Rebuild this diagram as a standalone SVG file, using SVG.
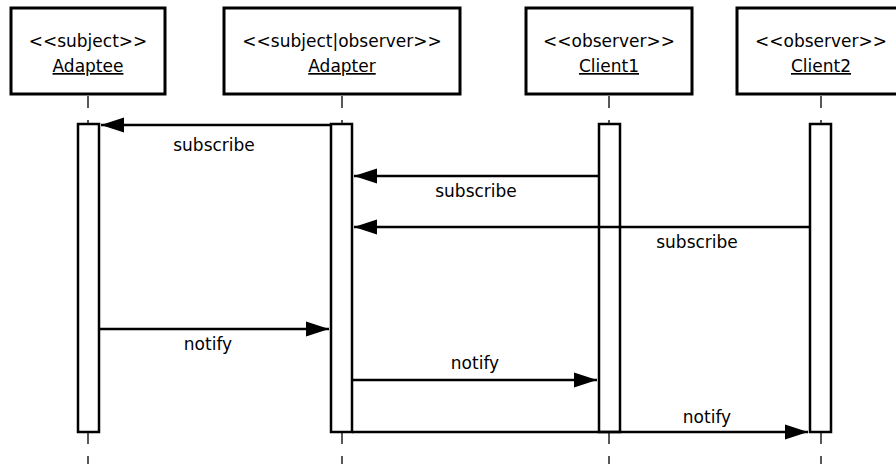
<svg xmlns="http://www.w3.org/2000/svg" width="896" height="464" viewBox="0 0 896 464">
  <style>
    .box { fill: #ffffff; stroke: #000000; stroke-width: 3; }
    .bar { fill: #ffffff; stroke: #000000; stroke-width: 2.5; }
    .life { stroke: #222222; stroke-width: 1.5; stroke-dasharray: 12 12; fill: none; }
    .msg { stroke: #000000; stroke-width: 2.5; fill: none; marker-end: url(#head); }
    text { font-family: "DejaVu Sans", sans-serif; font-size: 17px; fill: #000000; text-anchor: middle; }
    .name { text-decoration: underline; }
  </style>
  <defs>
    <marker id="head" markerUnits="userSpaceOnUse" markerWidth="23" markerHeight="16" refX="23" refY="8" orient="auto">
      <path d="M0,0.5 L23,8 L0,15.5 Z" fill="#000000"/>
    </marker>
  </defs>

  <!-- lifelines -->
  <g id="lifelines">
    <line class="life" x1="88" y1="96" x2="88" y2="464"/>
    <line class="life" x1="342" y1="96" x2="342" y2="464"/>
    <line class="life" x1="609" y1="96" x2="609" y2="464"/>
    <line class="life" x1="821" y1="96" x2="821" y2="464"/>
  </g>

  <g id="adaptee">
    <rect class="box" x="11" y="8" width="154" height="86"/>
    <text x="88" y="47">&lt;&lt;subject&gt;&gt;</text>
    <text class="name" x="88" y="72">Adaptee</text>
    <rect class="bar" x="78" y="124" width="21" height="308"/>
  </g>

  <g id="adapter">
    <rect class="box" x="224" y="8" width="236" height="86"/>
    <text x="342" y="47">&lt;&lt;subject|observer&gt;&gt;</text>
    <text class="name" x="342" y="72">Adapter</text>
    <rect class="bar" x="331" y="124" width="21" height="308"/>
  </g>

  <g id="client1">
    <rect class="box" x="526" y="8" width="166" height="86"/>
    <text x="609" y="47">&lt;&lt;observer&gt;&gt;</text>
    <text class="name" x="609" y="72">Client1</text>
    <rect class="bar" x="599" y="124" width="21" height="308"/>
  </g>

  <g id="client2">
    <rect class="box" x="737" y="8" width="168" height="86"/>
    <text x="821" y="47">&lt;&lt;observer&gt;&gt;</text>
    <text class="name" x="821" y="72">Client2</text>
    <rect class="bar" x="810" y="124" width="21" height="308"/>
  </g>

  <!-- messages -->
  <g id="connectors">
    <line class="msg" x1="331" y1="125" x2="101" y2="125"/>
    <text x="214" y="151">subscribe</text>

    <line class="msg" x1="599" y1="176" x2="354" y2="176"/>
    <text x="476" y="197">subscribe</text>

    <line class="msg" x1="810" y1="227" x2="354" y2="227"/>
    <text x="697" y="248">subscribe</text>

    <line class="msg" x1="99" y1="329" x2="329" y2="329"/>
    <text x="208" y="350">notify</text>

    <line class="msg" x1="352" y1="380" x2="597" y2="380"/>
    <text x="475" y="369">notify</text>

    <line class="msg" x1="352" y1="432" x2="808" y2="432"/>
    <text x="707" y="423">notify</text>
  </g>
</svg>
